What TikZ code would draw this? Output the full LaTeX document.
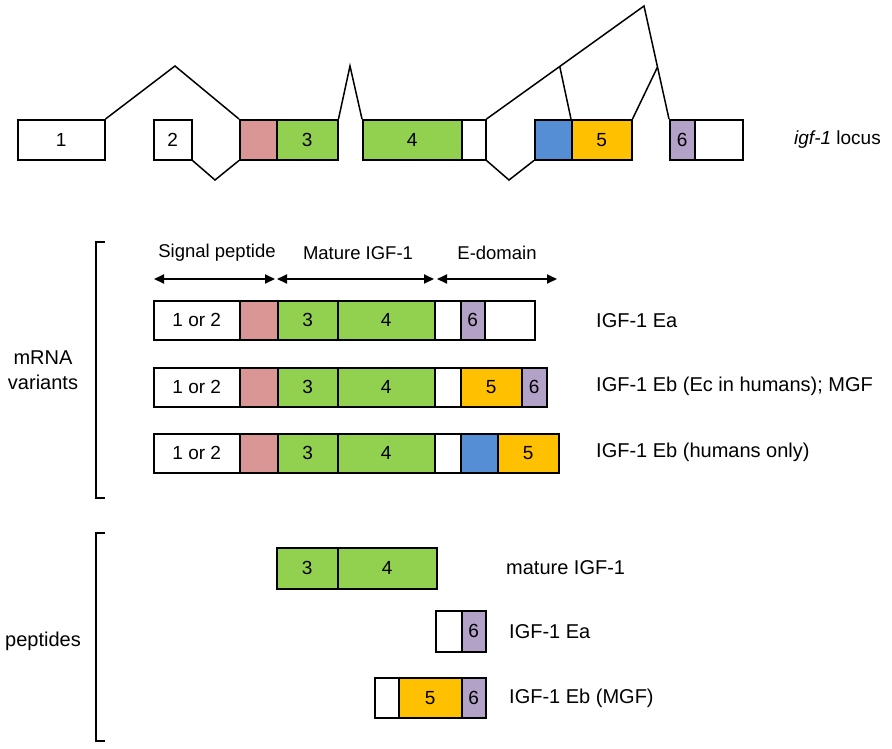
\documentclass[tikz,border=0pt]{standalone}
\usepackage{fontspec}
\setmainfont{Liberation Sans}
\usetikzlibrary{arrows.meta,calc}

\definecolor{sigpink}{HTML}{D99694}
\definecolor{exgreen}{HTML}{92D050}
\definecolor{exblue}{HTML}{558ED5}
\definecolor{exyellow}{HTML}{FFC000}
\definecolor{expurple}{HTML}{B3A2C7}

\tikzset{
  exon/.style={draw, line width=1.5pt, anchor=north west, inner sep=0pt,
    font=\fontsize{19}{22}\selectfont},
  intron/.style={line width=1.5pt},
  lbl/.style={anchor=west, inner sep=0pt, font=\fontsize{20}{25}\selectfont},
  head/.style={inner sep=0pt, font=\fontsize{18.5}{22}\selectfont},
  spanarrow/.style={line width=1.8pt, {Triangle[length=10pt,width=9pt]}-{Triangle[length=10pt,width=9pt]}},
  brack/.style={line width=1.5pt}
}

% one row of adjacent exon boxes: top, height, list name/x0/x1/colour/text
\newcommand{\exonrow}[3]{%
  \foreach \n/\a/\b/\c/\t in {#3}
  {
    \pgfmathsetmacro{\segw}{\b-\a}
    \node[exon, fill=\c, minimum width=\segw pt, minimum height=#2pt] (\n) at (\a,#1) {\t};
  }
}

\begin{document}
\begin{tikzpicture}[x=1pt,y=-1pt]
\useasboundingbox (0,0) rectangle (892,748);

% igf-1 locus
\exonrow{119}{40}{L1/17/104/white/1, L2/153/191/white/2, Lp/239/276/sigpink/,
  L3/276/337/exgreen/3, L4/362/461/exgreen/4, Lw/461/485/white/,
  Lb/534/571/exblue/, L5/571/631/exyellow/5, L6/669/694/expurple/6, Lu/694/742/white/}

\node[lbl, font=\fontsize{19}{22}\selectfont] (locus) at (794,140) {\textit{igf-1} locus};

\coordinate (k1) at (175,66);
\coordinate (k2) at (215,180);
\coordinate (k3) at (350,66);
\coordinate (k4) at (509,180);
\coordinate (top) at (644,6);

\draw[intron] (L1.north east) -- (k1) -- (Lp.north west);
\draw[intron] (L2.south east) -- (k2) -- (Lp.south west);
\draw[intron] (L3.north east) -- (k3) -- (L4.north west);
\draw[intron] (Lw.south east) -- (k4) -- (Lb.south west);
\draw[intron] (Lw.north east) -- (top) -- (L6.north west);
\draw[intron] ($(Lw.north east)!0.465!(top)$) -- (L5.north west);
\draw[intron] ($(top)!0.54!(L6.north west)$) -- (L5.north east);

% mRNA variants
\node[head] (hsig) at (217,253) {Signal peptide};
\node[head] (hmat) at (358,253) {Mature IGF-1};
\node[head] (hdom) at (497,253) {E-domain};

\coordinate (a1) at (154,279);
\coordinate (a2) at (275,279);
\coordinate (a3) at (277,279);
\coordinate (a4) at (434,279);
\coordinate (a5) at (437,279);
\coordinate (a6) at (557,279);
\draw[spanarrow] (a1) -- (a2);
\draw[spanarrow] (a3) -- (a4);
\draw[spanarrow] (a5) -- (a6);

\exonrow{300}{39}{Aw/153/239/white/1 or 2, Ap/239/277/sigpink/, A3/277/337/exgreen/3,
  A4/337/434/exgreen/4, Av/434/460/white/, A6/460/484/expurple/6, Au/484/534/white/}
\exonrow{367}{39}{Bw/153/239/white/1 or 2, Bp/239/277/sigpink/, B3/277/337/exgreen/3,
  B4/337/434/exgreen/4, Bv/434/460/white/, B5/460/521/exyellow/5, B6/521/546/expurple/6}
\exonrow{433}{39}{Cw/153/239/white/1 or 2, Cp/239/277/sigpink/, C3/277/337/exgreen/3,
  C4/337/434/exgreen/4, Cv/434/460/white/, Cb/460/497/exblue/, C5/497/558/exyellow/5}

\node[lbl] (ea) at (596,321) {IGF-1 Ea};
\node[lbl] (eb) at (596,386) {IGF-1 Eb (Ec in humans); MGF};
\node[lbl] (ebh) at (596,452) {IGF-1 Eb (humans only)};

\draw[brack] (105,242) -- (96,242) -- (96,498) -- (105,498);
\node[lbl, anchor=center, align=center] (mrna) at (43,370) {mRNA\\variants};

% peptides
\exonrow{547}{41}{P3/276/337/exgreen/3, P4/337/436/exgreen/4}
\exonrow{610}{41}{Qw/435/461/white/, Q6/461/485/expurple/6}
\exonrow{677}{40}{Rw/374/398/white/, R5/398/461/exyellow/5, R6/461/485/expurple/6}

\node[lbl] (pmat) at (506,568) {mature IGF-1};
\node[lbl] (pea) at (509,632) {IGF-1 Ea};
\node[lbl] (peb) at (509,698) {IGF-1 Eb (MGF)};

\draw[brack] (105,533) -- (96,533) -- (96,741) -- (105,741);
\node[lbl, anchor=center] (pept) at (43,641) {peptides};

\end{tikzpicture}
\end{document}
